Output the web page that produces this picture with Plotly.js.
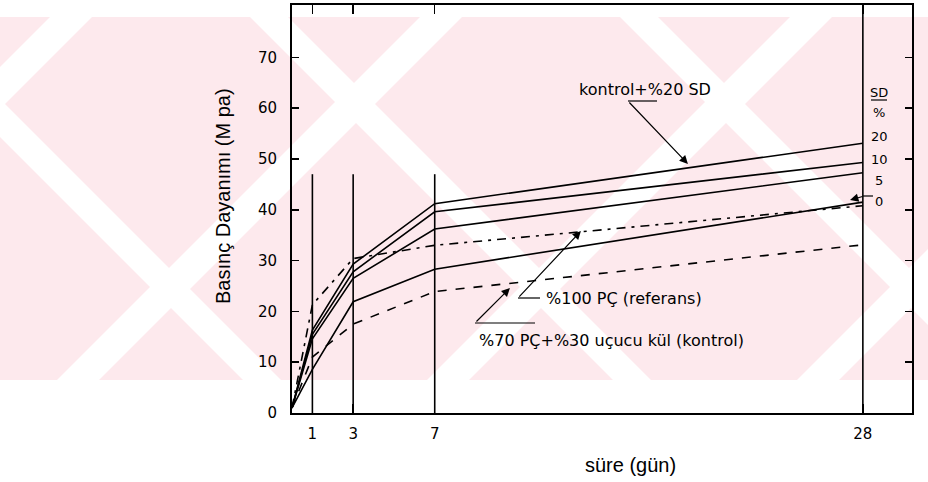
<!DOCTYPE html>
<html><head><meta charset="utf-8">
<script src="https://cdn.plot.ly/plotly-3.0.1.min.js"></script>
<style>html,body{margin:0;padding:0;background:#fff}#chart{width:928px;height:482px}</style>
</head><body><div id="chart"></div>
<script>
// ---- data ----
const days = [0, 1, 3, 7, 28];
const sd20 = [1, 16.3, 29.3, 41.2, 53.1];
const sd10 = [1, 15.5, 27.8, 39.6, 49.3];
const sd5  = [1, 14.6, 26.5, 36.2, 47.3];
const sd0  = [1, 8.6, 21.9, 28.3, 41.5];
const referans = [1, 21.3, 30.4, 33.0, 40.8];
const kontrol  = [1, 11.0, 17.5, 23.9, 33.1];
const guideDays = [1, 3, 7];
const guideTop = 47;
const fullDay = 28;
const yTicks = [0, 10, 20, 30, 40, 50, 60, 70];
const xTicks = [1, 3, 7, 28];
const sdLabels = ['SD', '%', '20', '10', '5', '0'];

// ---- geometry helpers (layout only) ----
const L = 292, T = 5, W = 620, H = 408;
const X_MAX = 30.41, Y_MAX = 80.3;
const px = x => (x - L) / W;
const py = y => (T + H - y) / H;

const black = '#000';
const lineW = 1.6;

const traces = [];
function series(y, dash, name) {
  traces.push({x: days, y: y, type: 'scatter', mode: 'lines', name: name,
    line: {color: black, width: lineW, dash: dash}, hoverinfo: 'skip'});
}
series(sd20, 'solid', 'SD %20');
series(sd10, 'solid', 'SD %10');
series(sd5, 'solid', 'SD %5');
series(sd0, 'solid', 'SD %0');
series(referans, '9px,6px,3px,6px', '%100 PÇ (referans)');
series(kontrol, '9px,9px', '%70 PÇ+%30 uçucu kül (kontrol)');

// guide verticals
const gx = [], gy = [];
guideDays.forEach(d => { gx.push(d, d, null); gy.push(0, guideTop, null); });
gx.push(fullDay, fullDay); gy.push(0, Y_MAX);
traces.push({x: gx, y: gy, type: 'scatter', mode: 'lines',
  line: {color: black, width: 1.6}, hoverinfo: 'skip', showlegend: false});

// ---- watermark (background decoration) ----
const pink = '#fde9ed';
const shapes = [];
shapes.push({type: 'rect', xref: 'paper', yref: 'paper', x0: px(0), x1: px(928), y0: py(17), y1: py(380),
  fillcolor: pink, line: {width: 0}, layer: 'below'});
function stripe(x0, w, dir) {
  const h = 380 - 17;
  const pts = dir > 0
    ? [[x0, 17], [x0 + w, 17], [x0 + w + h, 380], [x0 + h, 380]]
    : [[x0, 17], [x0 + w, 17], [x0 + w - h, 380], [x0 - h, 380]];
  const p = pts.map((q, i) => (i ? 'L' : 'M') + px(q[0]).toFixed(4) + ',' + py(q[1]).toFixed(4)).join(' ') + ' Z';
  shapes.push({type: 'path', xref: 'paper', yref: 'paper', path: p, fillcolor: '#fff', line: {width: 0}, layer: 'below'});
}
[-490, -120, 250, 620, 990].forEach(x => stripe(x, 38, 1));
[-320, 50, 420, 790, 1160].forEach(x => stripe(x, 42, -1));

// leader lines
function seg(x0, y0, x1, y1, w) {
  shapes.push({type: 'line', xref: 'paper', yref: 'paper', x0: px(x0), y0: py(y0), x1: px(x1), y1: py(y1),
    line: {color: black, width: w || 1.2}});
}
seg(628, 101, 657, 101);
seg(518, 298, 540, 298);
seg(475, 323, 535, 323);
seg(863, 196, 873, 196);
seg(871, 100, 887, 100, 1.2);

// ---- annotations ----
const lblFont = {family: 'DejaVu Sans', size: 16, color: black};
const annotations = [];
function txt(x, y, text, font, xanchor, extra) {
  annotations.push(Object.assign({xref: 'paper', yref: 'paper', x: px(x), y: py(y), text: text,
    showarrow: false, font: font, xanchor: xanchor || 'center', yanchor: 'middle', borderpad: 0}, extra || {}));
}
txt(578, 89, 'kontrol+%20 SD', lblFont, 'left');
txt(545, 298, '%100 PÇ (referans)', lblFont, 'left');
txt(478, 340, '%70 PÇ+%30 uçucu kül (kontrol)', lblFont, 'left');
const sdY = [92, 113, 137, 159, 180, 202];
sdLabels.forEach((s, i) => txt(879, sdY[i], s, {family: 'DejaVu Sans', size: 13, color: black}));
txt(223, 196, 'Basınç Dayanımı (M pa)', {family: 'Liberation Sans', size: 20, color: black}, 'center', {textangle: -90});
txt(630, 465, 'süre (gün)', {family: 'Liberation Sans', size: 20, color: black});

function arrow(tipDay, tipVal, ax, ay) {
  annotations.push({x: tipDay, y: tipVal, xref: 'x', yref: 'y', text: '', showarrow: true,
    ax: ax, ay: ay, arrowhead: 2, arrowsize: 1.4, arrowwidth: 1.2, arrowcolor: black});
}
arrow(19.42, 49.0, -60, -63);
arrow(14.17, 35.8, -63, 67);
arrow(10.69, 24.6, -35, 35);
arrow(27.37, 41.9, 14, -4);

const layout = {
  width: 928, height: 482,
  margin: {l: L, r: 928 - L - W, t: T, b: 482 - T - H, pad: 0},
  paper_bgcolor: '#fff', plot_bgcolor: 'rgba(0,0,0,0)',
  showlegend: false,
  xaxis: {range: [0, X_MAX], tickvals: xTicks, ticktext: xTicks.map(String),
    showline: true, linewidth: 2, linecolor: black, mirror: 'ticks',
    ticks: 'inside', ticklen: 9, tickwidth: 1.5, tickcolor: black,
    showgrid: false, zeroline: false,
    tickfont: {family: 'DejaVu Sans', size: 15, color: black}, ticklabelstandoff: 6},
  yaxis: {range: [0, Y_MAX], tickvals: yTicks, ticktext: yTicks.map(String),
    showline: true, linewidth: 2, linecolor: black, mirror: 'ticks',
    ticks: 'inside', ticklen: 7, tickwidth: 1.5, tickcolor: black,
    showgrid: false, zeroline: false,
    tickfont: {family: 'DejaVu Sans', size: 15, color: black}, ticklabelstandoff: 10},
  shapes: shapes,
  annotations: annotations
};
Plotly.newPlot('chart', traces, layout, {staticPlot: true, displayModeBar: false});
</script>
</body></html>
